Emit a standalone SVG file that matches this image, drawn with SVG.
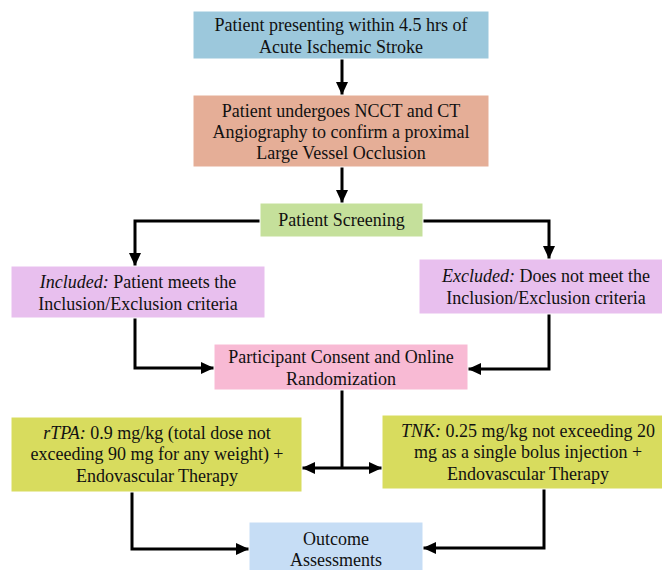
<svg xmlns="http://www.w3.org/2000/svg" width="662" height="570" viewBox="0 0 662 570">
<style>
text{font-family:"Liberation Serif","Times New Roman",serif;font-size:18px;fill:#111;text-anchor:middle}
.i{font-style:italic}
.c{fill:none;stroke:#000;stroke-width:3;marker-end:url(#ah)}
.d{fill:none;stroke:#000;stroke-width:3;marker-start:url(#ah);marker-end:url(#ah)}
.b{stroke:#fff;stroke-width:1}
</style>
<defs>
<marker id="ah" markerUnits="userSpaceOnUse" markerWidth="14" markerHeight="14" viewBox="0 0 14 14" refX="13" refY="7" orient="auto-start-reverse">
<path d="M0,1 L13,7 L0,13 Z" fill="#000"/>
</marker>
</defs>
<rect width="662" height="570" fill="#fff"/>
<g id="connectors">
<line class="c" x1="342" y1="59" x2="342" y2="95"/>
<line class="c" x1="342" y1="167" x2="342" y2="203"/>
<polyline class="c" points="260,221 135,221 135,266"/>
<polyline class="c" points="423,221 549,221 549,259"/>
<polyline class="c" points="135,318 135,368 214,368"/>
<polyline class="c" points="549,314 549,369 468,369"/>
<line x1="342" y1="390" x2="342" y2="468" stroke="#000" stroke-width="3"/>
<line class="d" x1="302" y1="468" x2="382" y2="468"/>
<polyline class="c" points="132,492 132,549 249,549"/>
<polyline class="c" points="544,489 544,548 423,548"/>
</g>
<g id="n1">
<rect class="b" x="193" y="11" width="296" height="48" fill="#9CC8DC"/>
<text x="341" y="31">Patient presenting within 4.5 hrs of</text>
<text x="341" y="53">Acute Ischemic Stroke</text>
</g>
<g id="n2">
<rect class="b" x="193" y="95" width="296" height="72" fill="#E5AE97"/>
<text x="341" y="117">Patient undergoes NCCT and CT</text>
<text x="341" y="138">Angiography to confirm a proximal</text>
<text x="341" y="159">Large Vessel Occlusion</text>
</g>
<g id="n3">
<rect class="b" x="260" y="203" width="163" height="34" fill="#C5E09B"/>
<text x="341.5" y="226">Patient Screening</text>
</g>
<g id="n4">
<rect class="b" x="11" y="266" width="254" height="52" fill="#E8BFEE"/>
<text x="138" y="288"><tspan class="i">Included:</tspan> Patient meets the</text>
<text x="138" y="310">Inclusion/Exclusion criteria</text>
</g>
<g id="n5">
<rect class="b" x="419" y="259" width="253" height="55" fill="#E8BFEE"/>
<text x="546" y="282"><tspan class="i">Excluded:</tspan> Does not meet the</text>
<text x="546" y="304">Inclusion/Exclusion criteria</text>
</g>
<g id="n6">
<rect class="b" x="214" y="344" width="254" height="46" fill="#F8BAD4"/>
<text x="341" y="363">Participant Consent and Online</text>
<text x="341" y="385">Randomization</text>
</g>
<g id="n7">
<rect class="b" x="11" y="417" width="291" height="75" fill="#D8DC5E"/>
<text x="157" y="439"><tspan class="i">rTPA:</tspan> 0.9 mg/kg (total dose not</text>
<text x="157" y="460">exceeding 90 mg for any weight) +</text>
<text x="157" y="482">Endovascular Therapy</text>
</g>
<g id="n8">
<rect class="b" x="382" y="415" width="290" height="74" fill="#D8DC5E"/>
<text x="528" y="437"><tspan class="i">TNK:</tspan> 0.25 mg/kg not exceeding 20</text>
<text x="528" y="458">mg as a single bolus injection +</text>
<text x="528" y="480">Endovascular Therapy</text>
</g>
<g id="n9">
<rect class="b" x="249" y="522" width="174" height="60" fill="#C6DDF5"/>
<text x="336" y="545">Outcome</text>
<text x="336" y="566">Assessments</text>
</g>
</svg>
